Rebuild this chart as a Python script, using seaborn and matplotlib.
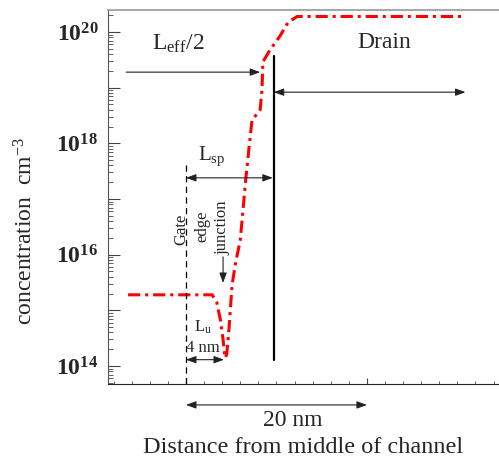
import math
import seaborn as sns
import matplotlib.pyplot as plt
from matplotlib.ticker import MultipleLocator, LogLocator, FuncFormatter, NullFormatter

# profil de dopage (distance en nm depuis le bord de grille, concentration en cm-3)
distance_nm = [-6.4, 2.9, 3.4, 3.8, 4.1, 4.3, 4.5, 4.75, 5.1, 5.5, 6.0, 6.6, 7.0, 7.3,
               8.2, 8.4, 8.5, 9.3, 10.4, 11.3, 12.3, 30.5]
concentration = [1.9e15, 1.9e15, 1.4e15, 6.8e14, 3.0e14, 1.4e14, 1.6e14, 4.5e14, 2.9e15,
                 7.4e15, 1.8e16, 2.2e17, 9.3e17, 2.6e18, 4.0e18, 9.1e18, 2.9e19, 4.8e19,
                 8.5e19, 1.5e20, 1.9e20, 1.9e20]

x_label = "Distance from middle of channel"
y_label = r"concentration  cm$^{\mathregular{-3}}$"

sns.set_style("ticks")
plt.rcParams["font.family"] = ["Liberation Serif", "DejaVu Serif"]
plt.rcParams["mathtext.fontset"] = "custom"
plt.rcParams["mathtext.rm"] = "Liberation Serif"
plt.rcParams["mathtext.it"] = "Liberation Serif:italic"
plt.rcParams["mathtext.bf"] = "Liberation Serif:bold"

fig = plt.figure(figsize=(4.99, 4.62), dpi=100)
ax = fig.add_axes([0.2164, 0.1688, 0.7836, 0.8095])

sns.lineplot(x=distance_nm, y=concentration, ax=ax, color="red", lw=2.2,
             linestyle=(0, (4, 1.6, 1, 1.6)), sort=False)

ax.set_yscale("log")
ax.set_xlim(-8.62, 34.6)
ax.set_ylim(4.75e13, 2.48e20)

# axes
ax.xaxis.set_major_locator(MultipleLocator(20))
ax.xaxis.set_minor_locator(MultipleLocator(2))
ax.xaxis.set_major_formatter(NullFormatter())
ax.yaxis.set_major_locator(LogLocator(base=10, subs=(1.0,), numticks=20))
ax.yaxis.set_minor_locator(LogLocator(base=10, subs=range(2, 10), numticks=20))
ax.yaxis.set_minor_formatter(NullFormatter())


def fmt(v, pos):
    e = int(round(math.log10(v)))
    return r"$\mathbf{10^{%d}}$" % e if e % 2 == 0 else ""


ax.yaxis.set_major_formatter(FuncFormatter(fmt))
ax.tick_params(axis="y", which="major", direction="in", length=8.5, width=0.8,
               labelsize=17, pad=7, color="#444444")
ax.tick_params(axis="y", which="minor", direction="in", length=3.6, width=0.6, color="#444444")
ax.tick_params(axis="x", which="major", direction="in", length=4.3, width=0.8, color="#444444")
ax.tick_params(axis="x", which="minor", direction="in", length=2.3, width=0.6, color="#444444")

ax.spines["right"].set_visible(False)
ax.spines["top"].set_color("#a0a0a0")
ax.spines["top"].set_linewidth(1.3)
ax.spines["left"].set_color("#555555")
ax.spines["bottom"].set_color("#222222")

ax.set_xlabel(x_label, fontsize=17.5, labelpad=35)
ax.set_ylabel(y_label, fontsize=17)
ax.yaxis.set_label_coords(-0.18, 0.41)

# lignes de repère
ax.plot([9.7, 9.7], [3.7e19, 1.3e14], color="black", lw=1.6)
ax.plot([0, 0], [4.1e17, 4.75e13], color="black", lw=0.9, linestyle=(0, (5, 3.5)))

arrow2 = dict(arrowstyle="<|-|>,head_length=0.6,head_width=0.22", color="#222222",
              lw=0.8, shrinkA=0, shrinkB=0)
arrow1 = dict(arrowstyle="-|>,head_length=0.6,head_width=0.22", color="#222222",
              lw=0.8, shrinkA=0, shrinkB=0)

ax.annotate("", xy=(8.2, 1.9e19), xytext=(-6.6, 1.9e19), arrowprops=arrow1)
ax.annotate("", xy=(30.9, 8.3e18), xytext=(9.7, 8.3e18), arrowprops=arrow2)
ax.annotate("", xy=(9.6, 2.4e17), xytext=(0, 2.4e17), arrowprops=arrow2)
ax.annotate("", xy=(4.2, 1.3e14), xytext=(0, 1.3e14), arrowprops=arrow2)
ax.annotate("", xy=(20, 2.0e13), xytext=(0, 2.0e13), arrowprops=arrow2,
            annotation_clip=False)
ax.annotate("", xy=(4.1, 3.1e15), xytext=(4.1, 9.1e15), arrowprops=arrow1)

# textes
ax.text(-3.76, 4.8e19, r"L$_{\mathregular{eff}}$/2", fontsize=17, va="baseline")
ax.text(18.9, 5.2e19, "Drain", fontsize=17, va="baseline")
ax.text(1.33, 5.0e17, r"L$_{\mathregular{sp}}$", fontsize=15, va="baseline")
ax.text(-0.55, 2.9e16, "Gate", fontsize=12, rotation=90, ha="center", va="center")
ax.text(1.77, 3.2e16, "edge", fontsize=12, rotation=90, ha="center", va="center")
ax.text(3.98, 3.0e16, "junction", fontsize=12, rotation=90, ha="center", va="center")
ax.text(1.88, 5.0e14, r"L$_{\mathregular{u}}$", fontsize=12, ha="center", va="center")
ax.text(1.88, 2.1e14, "4 nm", fontsize=12, ha="center", va="center")
ax.text(11.8, 1.07e13, "20 nm", fontsize=17, ha="center", va="center", clip_on=False)

plt.savefig("out.png", dpi=100)
